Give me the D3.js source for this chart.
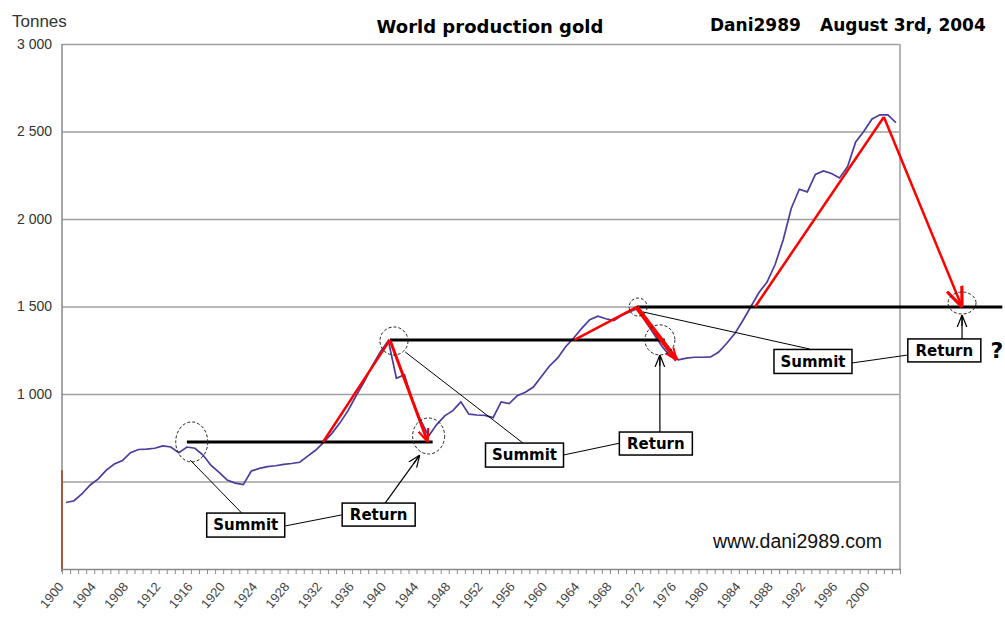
<!DOCTYPE html>
<html>
<head>
<meta charset="utf-8">
<script src="https://cdn.jsdelivr.net/npm/d3@7"></script>
<style>
  body { margin: 0; background: #fff; }
  svg { display: block; }
</style>
</head>
<body>
<div id="chart"></div>
<script>
// world gold production, tonnes per year, 1900..2003
const years = d3.range(1900, 2004)
const tonnes = [
  380, 390, 430, 480, 515, 565, 600, 620, 665, 683,
  685, 690, 703, 697, 665, 697, 690, 651, 592, 552,
  508, 491, 482, 560, 575, 585, 590, 598, 603, 610,
  645, 680, 725, 775, 835, 905, 990, 1070, 1160, 1240,
  1305, 1090, 1110, 960, 850, 760, 825, 875, 905, 955,
  885, 880, 878, 865, 955, 945, 990, 1010, 1040, 1100,
  1160, 1205, 1270, 1320, 1375, 1425, 1445, 1430, 1420, 1450,
  1470, 1490, 1410, 1340, 1270, 1215, 1195, 1205, 1210, 1210,
  1212, 1240, 1290, 1345, 1420, 1500, 1580, 1640, 1740, 1880,
  2060, 2170, 2155, 2255, 2275, 2260, 2235, 2300, 2440, 2500,
  2570, 2595, 2595, 2550
]
const gridTonnes = [500, 1000, 1500, 2000, 2500, 3000]
const labelYears = d3.range(1900, 2001, 4)

// summit levels (black lines)
const levelFrom = [1915.5, 1940.7, 1971.3]
const levelTo = [1946.0, 1974.8, 2016.7]
const levelTonnes = [726, 1309, 1497]

// red trend arrows: rise from the level, peak, fall back
const riseFromYear = [1932.4, 1963.6, 1986.0]
const peakYear = [1940.7, 1971.3, 2002.0]
const peakTonnes = [1309, 1497, 2583]
const fallToYear = [1945.4, 1976.3, 2011.7]
const fallToTonnes = [726, 1194, 1497]

// circles
const summitCircleYear = [1916.1, 1941.2, 1971.5]
const summitCircleTonnes = [726, 1303, 1497]
const returnCircleYear = [1945.5, 1974.2, 2011.7]
const returnCircleTonnes = [760, 1309, 1520]

// label boxes (centres)
const summitBoxYear = [1922.8, 1957.4, 1993.2]
const summitBoxTonnes = [251, 651, 1186]
const returnBoxYear = [1939.3, 1973.7, 2009.5]
const returnBoxTonnes = [311, 717, 1249]

// connectors [x1, t1, x2, t2]
const summitLinks = [[1915.9, 623, 1922.3, 320], [1942.6, 1240, 1957.2, 720], [1972.1, 1469, 1992.8, 1257]]
const boxLinks = [[1927.7, 246, 1934.7, 309], [1962.2, 651, 1969.3, 720], [1998.0, 1177, 2005.0, 1223]]
const returnArrows = [[1940.1, 377, 1944.4, 651], [1974.2, 783, 1974.2, 1223], [2011.7, 1314, 2011.7, 1451]]

const summitR = [[16, 20], [14, 14], [9, 9]]
const returnR = [[16, 18], [15, 15], [14, 11]]
const redHead = [13, 12, 20]
const fallWidth = [3, 4.5, 2.5]

const svg = d3.select('#chart').append('svg')
  .attr('width', 1005)
  .attr('height', 617)

const x = d3.scaleLinear().domain([1900, 2004]).range([62, 900])
const y = d3.scaleLinear().domain([0, 3000]).range([569, 44])

const defs = svg.append('defs')
redHead.forEach((s, i) => {
  defs.append('marker')
      .attr('id', 'red-head-' + i)
      .attr('viewBox', '0 0 10 10')
      .attr('refX', 10)
      .attr('refY', 5)
      .attr('markerWidth', s)
      .attr('markerHeight', s)
      .attr('markerUnits', 'userSpaceOnUse')
      .attr('orient', 'auto')
    .append('path')
      .attr('d', 'M0,1 L10,5 L0,9')
      .attr('fill', 'none')
      .attr('stroke', 'red')
      .attr('stroke-width', 1.6)
})
defs.append('marker')
    .attr('id', 'black-head')
    .attr('viewBox', '0 0 10 10')
    .attr('refX', 10)
    .attr('refY', 5)
    .attr('markerWidth', 12)
    .attr('markerHeight', 12)
    .attr('markerUnits', 'userSpaceOnUse')
    .attr('orient', 'auto')
  .append('path')
    .attr('d', 'M0,1 L10,5 L0,9 M1,5 L10,5')
    .attr('fill', 'none')
    .attr('stroke', '#000')
    .attr('stroke-width', 1)

// grid and y labels
const yAxis = svg.append('g')
  .attr('transform', 'translate(62,0)')
  .call(d3.axisLeft(y)
    .tickValues(gridTonnes)
    .tickSize(-838)
    .tickPadding(10)
    .tickFormat(d => d >= 1000 ? d3.format(',')(d).replace(',', ' ') : ''))
yAxis.select('.domain').remove()
yAxis.selectAll('.tick line')
  .attr('stroke', '#a0a0a0')
  .attr('stroke-width', 1.5)
yAxis.selectAll('.tick text')
  .style('font-family', '"Liberation Sans", Arial, sans-serif')
  .style('font-size', '14px')
  .attr('fill', '#333')

// frame
svg.append('line')
  .attr('x1', x(1900)).attr('x2', x(1900))
  .attr('y1', y(3000)).attr('y2', y(0))
  .attr('stroke', '#8a8a8a').attr('stroke-width', 1.5)
svg.append('line')
  .attr('x1', x(2004)).attr('x2', x(2004))
  .attr('y1', y(3000)).attr('y2', y(0))
  .attr('stroke', '#b4b4b4').attr('stroke-width', 2)
svg.append('line')
  .attr('x1', x(1900)).attr('x2', x(1900))
  .attr('y1', y(565)).attr('y2', y(-15))
  .attr('stroke', '#a0401a').attr('stroke-width', 1.5)

// x axis
const xAxis = svg.append('g')
  .attr('transform', `translate(0,${y(0)})`)
  .call(d3.axisBottom(x)
    .tickValues(d3.range(1900, 2005))
    .tickSize(5)
    .tickSizeOuter(0)
    .tickFormat(d => labelYears.includes(d) ? d : ''))
xAxis.select('.domain').attr('stroke', '#8a8a8a').attr('stroke-width', 1.5)
xAxis.selectAll('.tick line').attr('stroke', '#8a8a8a')
xAxis.selectAll('.tick text')
  .attr('x', 0)
  .attr('y', 0)
  .attr('dy', 0)
  .attr('transform', 'translate(2,18) rotate(-50)')
  .style('text-anchor', 'end')
  .style('font-family', '"Liberation Sans", Arial, sans-serif')
  .style('font-size', '13px')
  .attr('fill', '#444')

// production line
svg.append('path')
  .datum(tonnes)
  .attr('fill', 'none')
  .attr('stroke', '#4b3c9e')
  .attr('stroke-width', 1.7)
  .attr('d', d3.line()
    .x((d, i) => x(years[i] + 0.5))
    .y(d => y(d)))

// summit levels
levelTonnes.forEach((t, i) => {
  svg.append('line')
    .attr('x1', x(levelFrom[i])).attr('x2', x(levelTo[i]))
    .attr('y1', y(t)).attr('y2', y(t))
    .attr('stroke', '#000').attr('stroke-width', 3)
})

// red arrows
peakYear.forEach((p, i) => {
  svg.append('line')
    .attr('x1', x(riseFromYear[i])).attr('y1', y(levelTonnes[i]))
    .attr('x2', x(p)).attr('y2', y(peakTonnes[i]))
    .attr('stroke', 'red').attr('stroke-width', 2.5)
  svg.append('line')
    .attr('x1', x(p)).attr('y1', y(peakTonnes[i]))
    .attr('x2', x(fallToYear[i])).attr('y2', y(fallToTonnes[i]))
    .attr('stroke', 'red').attr('stroke-width', fallWidth[i])
    .attr('marker-end', `url(#red-head-${i})`)
})

// dashed circles
const circles = svg.append('g')
  .attr('fill', 'none')
  .attr('stroke', '#222')
  .attr('stroke-width', 1)
  .attr('stroke-dasharray', '3,2')
summitCircleYear.forEach((yr, i) => {
  circles.append('ellipse')
    .attr('cx', x(yr)).attr('cy', y(summitCircleTonnes[i]))
    .attr('rx', summitR[i][0]).attr('ry', summitR[i][1])
})
returnCircleYear.forEach((yr, i) => {
  circles.append('ellipse')
    .attr('cx', x(yr)).attr('cy', y(returnCircleTonnes[i]))
    .attr('rx', returnR[i][0]).attr('ry', returnR[i][1])
})

// connectors
summitLinks.concat(boxLinks).forEach(l => {
  svg.append('line')
    .attr('x1', x(l[0])).attr('y1', y(l[1]))
    .attr('x2', x(l[2])).attr('y2', y(l[3]))
    .attr('stroke', '#000').attr('stroke-width', 1)
})
returnArrows.forEach(l => {
  svg.append('line')
    .attr('x1', x(l[0])).attr('y1', y(l[1]))
    .attr('x2', x(l[2])).attr('y2', y(l[3]))
    .attr('stroke', '#000').attr('stroke-width', 1.2)
    .attr('marker-end', 'url(#black-head)')
})

// label boxes
function labelBox(yr, t, label, w, h) {
  const g = svg.append('g')
    .attr('transform', `translate(${x(yr)},${y(t)})`)
  g.append('rect')
    .attr('x', -w / 2).attr('y', -h / 2)
    .attr('width', w).attr('height', h)
    .attr('fill', '#fff')
    .attr('stroke', '#000')
    .attr('stroke-width', 1.5)
  g.append('text')
    .attr('text-anchor', 'middle')
    .attr('dy', '0.36em')
    .style('font-family', '"DejaVu Sans", sans-serif')
    .style('font-weight', 'bold')
    .style('font-size', '15px')
    .text(label)
}
summitBoxYear.forEach((yr, i) => labelBox(yr, summitBoxTonnes[i], 'Summit', 78, 24))
returnBoxYear.forEach((yr, i) => labelBox(yr, returnBoxTonnes[i], 'Return', 73, 23))

// texts
svg.append('text')
  .attr('x', 997).attr('y', 358)
  .attr('text-anchor', 'middle')
  .style('font-family', '"DejaVu Sans", sans-serif')
  .style('font-weight', 'bold')
  .style('font-size', '22px')
  .text('?')

svg.append('text')
  .attr('x', 12).attr('y', 27)
  .style('font-family', '"Liberation Sans", Arial, sans-serif')
  .style('font-size', '17px')
  .attr('fill', '#333')
  .text('Tonnes')

svg.append('text')
  .attr('x', 490).attr('y', 33)
  .attr('text-anchor', 'middle')
  .style('font-family', '"DejaVu Sans", sans-serif')
  .style('font-weight', 'bold')
  .style('font-size', '18px')
  .text('World production gold')

svg.append('text')
  .attr('x', 710).attr('y', 31)
  .style('font-family', '"DejaVu Sans", sans-serif')
  .style('font-weight', 'bold')
  .style('font-size', '17px')
  .text('Dani2989')

svg.append('text')
  .attr('x', 820).attr('y', 31)
  .style('font-family', '"DejaVu Sans", sans-serif')
  .style('font-weight', 'bold')
  .style('font-size', '17px')
  .text('August 3rd, 2004')

svg.append('text')
  .attr('x', 713).attr('y', 548)
  .style('font-family', '"Liberation Sans", Arial, sans-serif')
  .style('font-size', '19.5px')
  .attr('fill', '#111')
  .text('www.dani2989.com')
</script>
</body>
</html>
